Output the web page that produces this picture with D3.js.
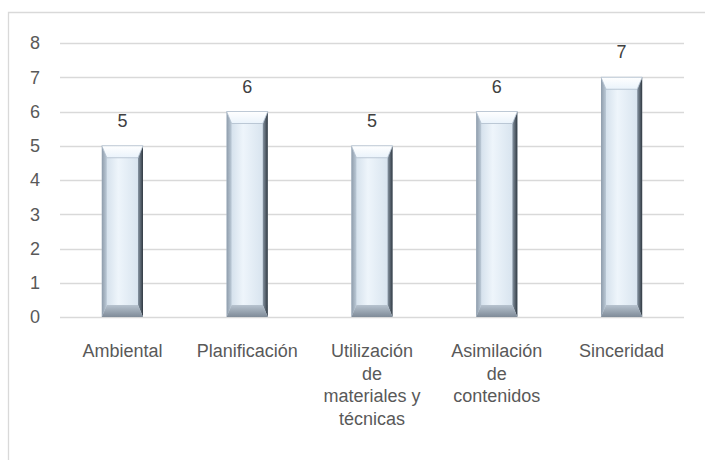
<!DOCTYPE html>
<html>
    <head>
        <meta charset="UTF-8">
        <script src="https://d3js.org/d3.v7.min.js"></script>
        <style>
            body { margin: 0; background: #fff; }
            svg { font-family: 'Liberation Sans', Arial, sans-serif; }
            .grid line { stroke: #d9d9d9; stroke-width: 1.3px; }
            .axis text { fill: #595959; font-size: 18px; }
            .value { fill: #404040; font-size: 18px; text-anchor: middle; }
        </style>
    </head>
    <body>
        <svg width="705" height="460"></svg>
        <script>
            // chart data
            var categories = ['Ambiental', 'Planificación', 'Utilización de materiales y técnicas', 'Asimilación de contenidos', 'Sinceridad'];
            var values = [5, 6, 5, 6, 7];
            var categoryLines = [
                ['Ambiental'],
                ['Planificación'],
                ['Utilización', 'de', 'materiales y', 'técnicas'],
                ['Asimilación', 'de', 'contenidos'],
                ['Sinceridad']
            ];
            var yTicks = [0, 1, 2, 3, 4, 5, 6, 7, 8];

            var svg = d3.select('svg'),
                margin = { top: 43, right: 21, bottom: 143, left: 60 },
                width = svg.attr('width') - margin.left - margin.right,
                height = svg.attr('height') - margin.top - margin.bottom;

            // outer frame (only top and left edges visible)
            svg.append('path')
                .attr('d', 'M8.5,460 L8.5,12.5 L705,12.5')
                .attr('fill', 'none')
                .attr('stroke', '#d9d9d9')
                .attr('stroke-width', 1.3);

            var g = svg.append('g').attr('transform', 'translate(' + margin.left + ',' + margin.top + ')');

            var x = d3.scaleBand().domain(categories).range([0, width]).paddingInner(0.67).paddingOuter(0.335),
                y = d3.scaleLinear().domain([0, 8]).range([height, 0]);

            g.append('g')
                .attr('class', 'grid')
                .selectAll('line')
                .data(yTicks)
                .enter().append('line')
                  .attr('x1', 0).attr('x2', width)
                  .attr('y1', function(d) { return Math.round(y(d)) + 0.5; })
                  .attr('y2', function(d) { return Math.round(y(d)) + 0.5; });

            var yAxis = g.append('g')
                .attr('class', 'axis')
                .call(d3.axisLeft(y).tickValues(yTicks).tickSize(0).tickPadding(20));
            yAxis.select('.domain').remove();

            var xAxis = g.append('g')
                .attr('class', 'axis')
                .attr('transform', 'translate(0,' + height + ')')
                .call(d3.axisBottom(x).tickSize(0).tickFormat(''));
            xAxis.select('.domain').remove();
            xAxis.selectAll('.tick').each(function(d, i) {
                var t = d3.select(this).select('text')
                    .attr('y', 0)
                    .attr('dy', null);
                categoryLines[i].forEach(function(line, j) {
                    t.append('tspan')
                        .attr('x', 0)
                        .attr('y', 40 + j * 22.5)
                        .text(line);
                });
            });

            // gradients for the bevelled bars
            var defs = svg.append('defs');
            function grad(id, vertical, stops) {
                var lg = defs.append('linearGradient').attr('id', id)
                    .attr('x1', 0).attr('y1', 0)
                    .attr('x2', vertical ? 0 : 1).attr('y2', vertical ? 1 : 0);
                stops.forEach(function(s) {
                    lg.append('stop').attr('offset', s[0]).attr('stop-color', s[1]);
                });
            }
            grad('face', false, [['0%', '#cbd9e6'], ['40%', '#eef5fb'], ['100%', '#d3e0ec']]);
            grad('leftEdge', false, [['0%', '#8e9cab'], ['100%', '#bccad7']]);
            grad('rightEdge', false, [['0%', '#8795a3'], ['100%', '#2f3841']]);
            grad('topEdge', true, [['0%', '#ffffff'], ['100%', '#eaf3fb']]);
            grad('bottomEdge', true, [['0%', '#b7c3cf'], ['100%', '#7f8b98']]);

            var bw = 5, bt = 12;
            var bar = g.selectAll('.bar')
                .data(values)
                .enter().append('g')
                  .attr('class', 'bar');

            function pts(arr) { return arr.map(function(p) { return p.join(','); }).join(' '); }

            bar.each(function(d, i) {
                var b = d3.select(this),
                    x0 = x(categories[i]), x1 = x0 + x.bandwidth(),
                    y0 = y(d), y1 = y(0);
                b.append('rect')
                    .attr('x', x0).attr('y', y0)
                    .attr('width', x.bandwidth()).attr('height', y1 - y0)
                    .attr('fill', 'url(#face)');
                b.append('polygon').attr('fill', 'url(#leftEdge)')
                    .attr('points', pts([[x0, y0], [x0 + bw, y0 + bt], [x0 + bw, y1 - bt], [x0, y1]]));
                b.append('polygon').attr('fill', 'url(#rightEdge)')
                    .attr('points', pts([[x1, y0], [x1 - bw, y0 + bt], [x1 - bw, y1 - bt], [x1, y1]]));
                b.append('polygon').attr('fill', 'url(#topEdge)')
                    .attr('stroke', '#aebccb').attr('stroke-width', 0.8)
                    .attr('points', pts([[x0, y0], [x1, y0], [x1 - bw, y0 + bt], [x0 + bw, y0 + bt]]));
                b.append('polygon').attr('fill', 'url(#bottomEdge)')
                    .attr('points', pts([[x0, y1], [x1, y1], [x1 - bw, y1 - bt], [x0 + bw, y1 - bt]]));
                b.append('text')
                    .attr('class', 'value')
                    .attr('x', x0 + x.bandwidth() / 2)
                    .attr('y', y0 - 19)
                    .text(d);
            });
        </script>
    </body>
</html>
